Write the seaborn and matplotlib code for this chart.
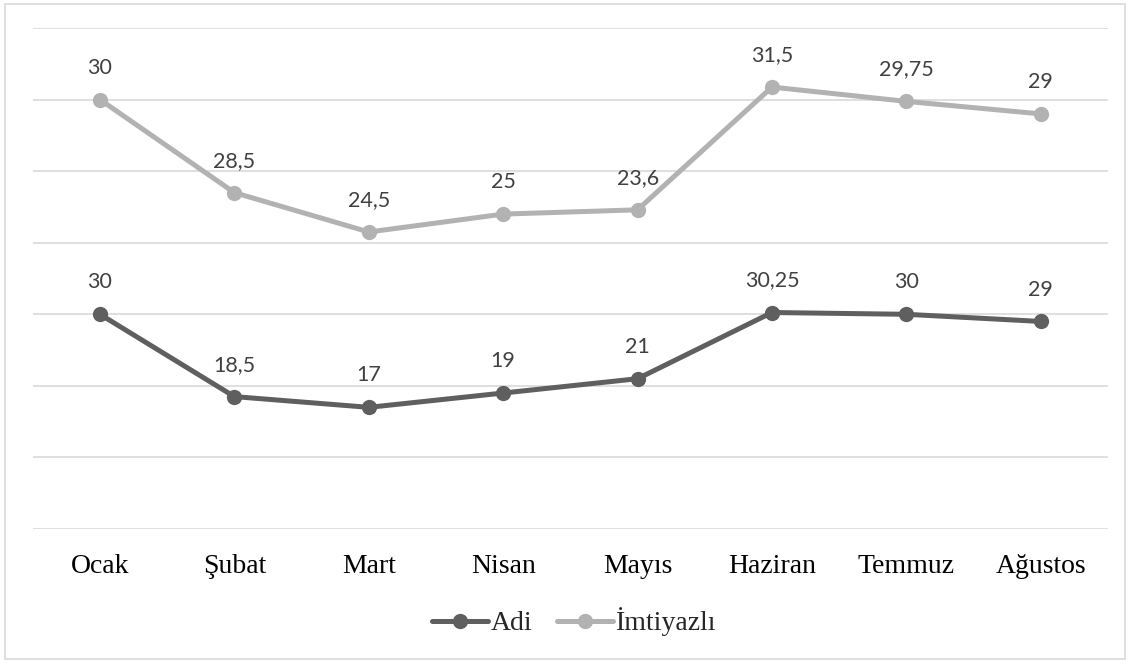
import numpy as np
import pandas as pd
import matplotlib.pyplot as plt
import seaborn as sns
from matplotlib.patches import Rectangle

months = ["Ocak", "Şubat", "Mart", "Nisan", "Mayıs", "Haziran", "Temmuz", "Ağustos"]
adi = [30, 18.5, 17, 19, 21, 30.25, 30, 29]
imtiyazli = [30, 28.5, 24.5, 25, 23.6, 31.5, 29.75, 29]
series_names = ["Adi", "İmtiyazlı"]
colors = ["#5f5f5f", "#b2b2b2"]


def fmt(v):
    s = f"{v:g}"
    return s.replace(".", ",")


def main():
    # stacked line chart: second series sits on top of the first
    stacked = np.array(adi) + np.array(imtiyazli)
    df = pd.DataFrame({
        "pos": list(range(len(months))) * 2,
        "value": list(adi) + list(stacked),
        "label": list(adi) + list(imtiyazli),
        "series": [series_names[0]] * len(months) + [series_names[1]] * len(months),
    })

    sns.set_style("white")
    fig = plt.figure(figsize=(11.3, 6.64), dpi=100)
    ax = fig.add_axes([0.029, 0.2033, 0.9515, 0.7545])

    sns.lineplot(data=df, x="pos", y="value", hue="series", style="series",
                 palette=colors, markers=["o", "o"], dashes=False,
                 linewidth=3.6, markersize=11, markeredgewidth=0, ax=ax,
                 legend=False)

    for _, row in df.iterrows():
        ax.annotate(fmt(row["label"]), (row["pos"], row["value"]),
                    xytext=(0, 23), textcoords="offset points",
                    ha="center", va="center", fontsize=15.5,
                    family="Lato", color="#404040")

    ax.set_xlim(-0.5, len(months) - 0.5)
    ax.set_ylim(0, 70)
    ax.set_yticks(np.arange(0, 71, 10))
    ax.set_yticklabels([])
    ax.set_xticks(range(len(months)))
    ax.set_xticklabels(months, fontsize=20, family="Liberation Serif", color="black")
    ax.tick_params(axis="x", length=0, pad=18)
    ax.tick_params(axis="y", length=0)
    ax.grid(axis="y", color="#d9d9d9", linewidth=1.2)
    ax.grid(axis="x", visible=False)
    ax.set_xlabel("")
    ax.set_ylabel("")
    for sp in ax.spines.values():
        sp.set_visible(False)

    handles = [plt.Line2D([], [], color=c, linewidth=3.6, marker="o",
                          markersize=11, markeredgewidth=0) for c in colors]
    fig.legend(handles, series_names, loc="center", ncol=2,
               bbox_to_anchor=(0.508, 1 - 622 / 664), frameon=False,
               prop={"family": "Liberation Serif", "size": 20},
               handlelength=2.0, handletextpad=0.1, columnspacing=0.9)

    fig.patches.append(Rectangle((0.004, 0.008), 0.992, 0.986, transform=fig.transFigure,
                                 fill=False, edgecolor="#d9d9d9", linewidth=1.2))

    fig.savefig("out.png", dpi=100)
    plt.close(fig)


if __name__ == "__main__":
    main()
